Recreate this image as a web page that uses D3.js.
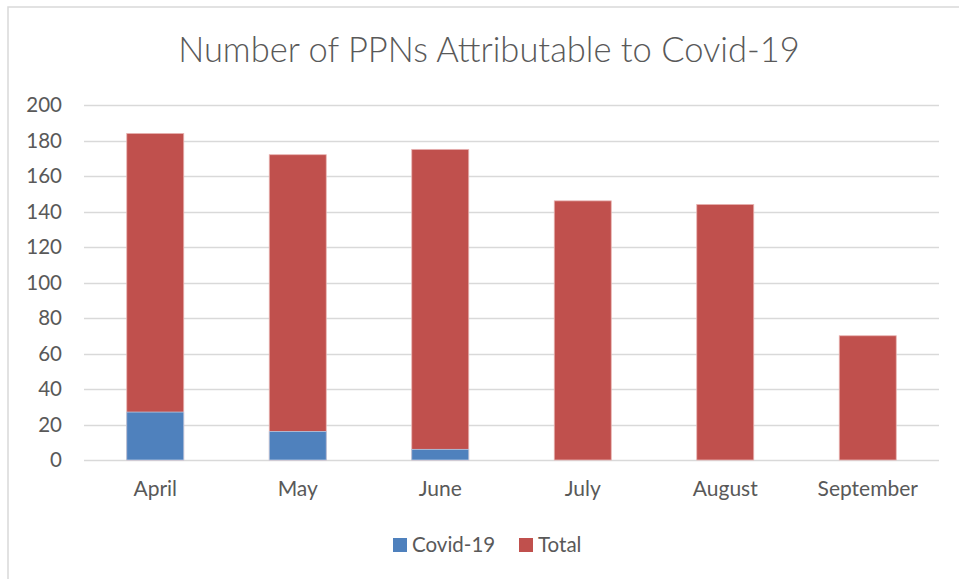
<!DOCTYPE html>
<html>
<head>
<meta charset="utf-8">
<script src="https://cdn.jsdelivr.net/npm/d3@7"></script>
<style>
  body { margin: 0; background: #fff; }
  svg { display: block; font-family: Lato, "Open Sans", sans-serif; }
</style>
</head>
<body>
<div id="chart"></div>
<script>
const months = ["April", "May", "June", "July", "August", "September"]
const covid = [27, 16, 6, 0, 0, 0]
const total = [184, 172, 175, 146, 144, 70]
const yTicks = [0, 20, 40, 60, 80, 100, 120, 140, 160, 180, 200]
const seriesNames = ["Covid-19", "Total"]
const colors = { "Covid-19": "#4f81bd", "Total": "#c0504d" }

const width = 959, height = 579
const margin = [105, 20, 119, 84] // top right bottom left

const svg = d3.select("#chart").append("svg")
  .attr("width", width)
  .attr("height", height)

// chart frame (only top and left edges visible)
svg.append("rect")
  .attr("x", 8).attr("y", 7)
  .attr("width", width + 20).attr("height", height + 20)
  .attr("fill", "#fff")
  .attr("stroke", "#d9d9d9")
  .attr("stroke-width", 1.5)

const x = d3.scaleBand()
  .domain(months)
  .range([margin[3], width - margin[1]])
  .paddingInner(0.6)
  .paddingOuter(0.3)

const y = d3.scaleLinear()
  .domain([0, 200])
  .range([height - margin[2], margin[0]])

// gridlines
svg.append("g")
  .selectAll("line")
  .data(yTicks)
  .join("line")
  .attr("x1", margin[3])
  .attr("x2", width - margin[1])
  .attr("y1", d => Math.round(y(d)) + 0.5)
  .attr("y2", d => Math.round(y(d)) + 0.5)
  .attr("stroke", "#d9d9d9")
  .attr("stroke-width", 1.5)

// y axis labels
const yAxis = d3.axisLeft(y).tickValues(yTicks).tickSize(0).tickPadding(0)
svg.append("g")
  .attr("transform", `translate(${margin[3] - 22},0)`)
  .call(yAxis)
  .call(g => g.select(".domain").remove())
  .selectAll("text")
  .attr("fill", "#595959")
  .style("font-size", "20.5px")
  .style("font-family", "Lato, sans-serif")

// x axis labels
const xAxis = d3.axisBottom(x).tickSize(0).tickPadding(0)
svg.append("g")
  .attr("transform", `translate(0,${height - margin[2] + 21})`)
  .call(xAxis)
  .call(g => g.select(".domain").remove())
  .selectAll("text")
  .attr("fill", "#595959")
  .style("font-size", "21px")
  .style("font-family", "Lato, sans-serif")

// total bars, then covid bars drawn on top
svg.append("g")
  .selectAll("rect")
  .data(months)
  .join("rect")
  .attr("x", d => x(d))
  .attr("width", x.bandwidth())
  .attr("y", (d, i) => y(total[i]))
  .attr("height", (d, i) => y(0) - y(total[i]))
  .attr("fill", colors["Total"])
  .attr("stroke", "#e8b4b3")
  .attr("stroke-width", 0.8)

svg.append("g")
  .selectAll("rect")
  .data(months.filter((d, i) => covid[i] > 0))
  .join("rect")
  .attr("x", d => x(d))
  .attr("width", x.bandwidth())
  .attr("y", d => y(covid[months.indexOf(d)]))
  .attr("height", d => y(0) - y(covid[months.indexOf(d)]))
  .attr("fill", colors["Covid-19"])
  .attr("stroke", "#b8cbe3")
  .attr("stroke-width", 0.8)

// title
svg.append("text")
  .attr("x", 489)
  .attr("y", 62)
  .attr("text-anchor", "middle")
  .attr("fill", "#595959")
  .style("font-size", "34.5px")
  .style("font-weight", 300)
  .style("font-family", "Lato, sans-serif")
  .text("Number of PPNs Attributable to Covid-19")

// legend
const legendX = [393, 519]
const legend = svg.append("g")
  .selectAll("g")
  .data(seriesNames)
  .join("g")
  .attr("transform", (d, i) => `translate(${legendX[i]},538)`)
legend.append("rect")
  .attr("width", 14).attr("height", 14)
  .attr("fill", d => colors[d])
legend.append("text")
  .attr("x", 19)
  .attr("y", 14)
  .attr("fill", "#595959")
  .style("font-size", "20.5px")
  .style("font-family", "Lato, sans-serif")
  .text(d => d)
</script>
</body>
</html>
